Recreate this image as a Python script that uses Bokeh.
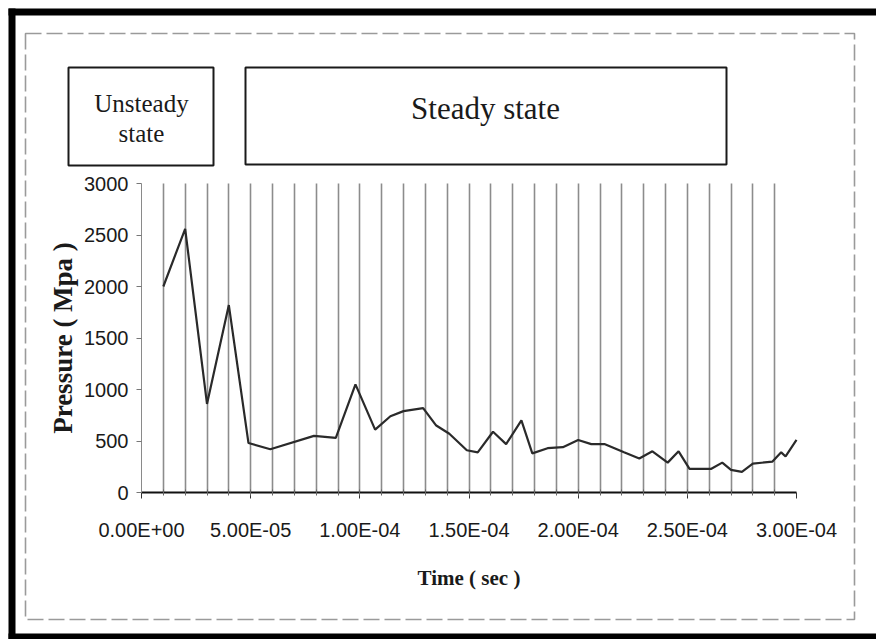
from bokeh.plotting import figure
from bokeh.models import (Range1d, SingleIntervalTicker, FixedTicker, CustomJSTickFormatter,
                          BoxAnnotation, Label)
from bokeh.embed import file_html
from bokeh.resources import INLINE

# ---- data ----
time_s = [1.0e-5, 2.0e-5, 3.0e-5, 4.0e-5, 4.9e-5, 5.9e-5, 7.9e-5, 8.9e-5, 9.8e-5,
          1.07e-4, 1.14e-4, 1.20e-4, 1.29e-4, 1.35e-4, 1.41e-4, 1.49e-4, 1.54e-4,
          1.61e-4, 1.67e-4, 1.74e-4, 1.79e-4, 1.86e-4, 1.93e-4, 2.00e-4, 2.06e-4,
          2.12e-4, 2.21e-4, 2.28e-4, 2.34e-4, 2.41e-4, 2.46e-4, 2.51e-4, 2.61e-4,
          2.66e-4, 2.70e-4, 2.75e-4, 2.80e-4, 2.89e-4, 2.93e-4, 2.95e-4, 3.00e-4]
pressure_mpa = [2000, 2560, 860, 1820, 480, 420, 550, 530, 1050,
                610, 740, 790, 820, 650, 570, 410, 390,
                590, 470, 700, 380, 430, 440, 510, 470,
                470, 390, 330, 400, 290, 400, 230, 230,
                290, 220, 200, 280, 300, 390, 350, 510]
x_min, x_max = 0.0, 3e-4
y_min, y_max = 0, 3000
x_ticks = [0.0, 5e-5, 1e-4, 1.5e-4, 2e-4, 2.5e-4, 3e-4]
grid_times = [k * 1e-5 for k in range(1, 30)]
x_label = "Time ( sec )"
y_label = "Pressure ( Mpa )"
unsteady_lines = ["Unsteady", "state"]
steady_text = "Steady state"

# ---- layout constants (canvas pixels) ----
W, H = 876, 639
FL, FR, FT, FB = 141, 796, 183, 492   # where the data area sits on the canvas

x_per_px = (x_max - x_min) / (FR - FL)
y_per_px = (y_max - y_min) / (FB - FT)

p = figure(width=W, height=H, output_backend="svg", toolbar_location=None,
           x_range=Range1d(x_min - FL * x_per_px, x_max + (W - FR) * x_per_px),
           y_range=Range1d(y_min - (H - FB) * y_per_px, y_max + FT * y_per_px),
           min_border=0, outline_line_color=None,
           background_fill_color="white", border_fill_color="white")


def sx(X):
    return X


def sy(Y):
    return H - Y


def box(l, t, r, b, **kw):
    p.add_layout(BoxAnnotation(left=sx(l), right=sx(r), top=sy(t), bottom=sy(b),
                               left_units="screen", right_units="screen",
                               top_units="screen", bottom_units="screen", **kw))


# scan border and chart-area border
black = dict(fill_color="black", fill_alpha=1, line_color=None)
box(8, 8, 876, 15, **black)
box(8, 8, 15, 639, **black)
box(8, 633, 876, 639, **black)
box(25, 33, 854, 619, fill_alpha=0, line_color="#9a9a9a", line_alpha=1,
    line_width=1.6, line_dash="16 5")
# region boxes
box(68, 67, 213, 165, fill_alpha=0, line_color="#1a1a1a", line_alpha=1, line_width=2)
box(245, 67, 726, 164, fill_alpha=0, line_color="#1a1a1a", line_alpha=1, line_width=2)
common = dict(x_units="screen", y_units="screen", text_font="Liberation Serif",
              text_color="#1a1a1a", text_align="center", text_baseline="alphabetic")
p.add_layout(Label(x=sx(141), y=sy(103), text=unsteady_lines[0], text_font_size="25px", **common))
p.add_layout(Label(x=sx(141), y=sy(133), text=unsteady_lines[1], text_font_size="25px", **common))
p.add_layout(Label(x=sx(485), y=sy(108), text=steady_text, text_font_size="31px", **common))

# grid (vertical lines only, limited to the data area)
grid = p.xgrid[0]
grid.ticker = FixedTicker(ticks=grid_times)
grid.bounds = (x_min, x_max)
grid.grid_line_color = "#8c8c8c"
grid.grid_line_width = 1.6
if "cross_bounds" in grid.properties():
    grid.cross_bounds = (y_min, y_max)
else:
    grid.visible = False
    p.segment(x0=grid_times, y0=[y_min] * len(grid_times), x1=grid_times,
              y1=[y_max] * len(grid_times), line_color="#8c8c8c", line_width=1.6)
p.ygrid.visible = False

p.line(time_s, pressure_mpa, line_color="#2a2a2a", line_width=2.2)

# x axis
xa = p.xaxis[0]
xa.fixed_location = y_min
xa.bounds = (x_min, x_max)
xa.ticker = FixedTicker(ticks=x_ticks, minor_ticks=grid_times)
xa.formatter = CustomJSTickFormatter(code="""
const parts = tick.toExponential(2).split('e');
let e = parseInt(parts[1]);
const sign = e < 0 ? '-' : '+';
e = Math.abs(e);
return parts[0] + 'E' + sign + (e < 10 ? '0' + e : String(e));
""")
xa.axis_line_color = "#111111"
xa.axis_line_width = 2
xa.major_tick_line_color = "#333333"
xa.major_tick_in = 0
xa.major_tick_out = 6
xa.minor_tick_line_color = "#666666"
xa.minor_tick_in = 3
xa.minor_tick_out = 3
xa.major_label_text_font = "Liberation Sans"
xa.major_label_text_font_size = "20px"
xa.major_label_text_color = "#1a1a1a"
xa.major_label_standoff = 20
xa.axis_label = x_label
xa.axis_label_text_font = "Liberation Serif"
xa.axis_label_text_font_style = "bold"
xa.axis_label_text_font_size = "21px"
xa.axis_label_text_color = "#1a1a1a"
xa.axis_label_standoff = 22

# y axis
ya = p.yaxis[0]
ya.fixed_location = x_min
ya.bounds = (y_min, y_max)
ya.ticker = SingleIntervalTicker(interval=500, num_minor_ticks=0)
ya.axis_line_color = "#8a8a8a"
ya.axis_line_width = 1
ya.major_tick_line_color = "#777777"
ya.major_tick_in = 0
ya.major_tick_out = 5
ya.minor_tick_line_color = None
ya.major_label_text_font = "Liberation Sans"
ya.major_label_text_font_size = "20px"
ya.major_label_text_color = "#1a1a1a"
ya.major_label_standoff = 8
ya.axis_label = y_label
ya.axis_label_text_font = "Liberation Serif"
ya.axis_label_text_font_style = "bold"
ya.axis_label_text_font_size = "27px"
ya.axis_label_text_color = "#1a1a1a"
ya.axis_label_standoff = 3

open("out.html", "w").write(file_html(p, INLINE))
